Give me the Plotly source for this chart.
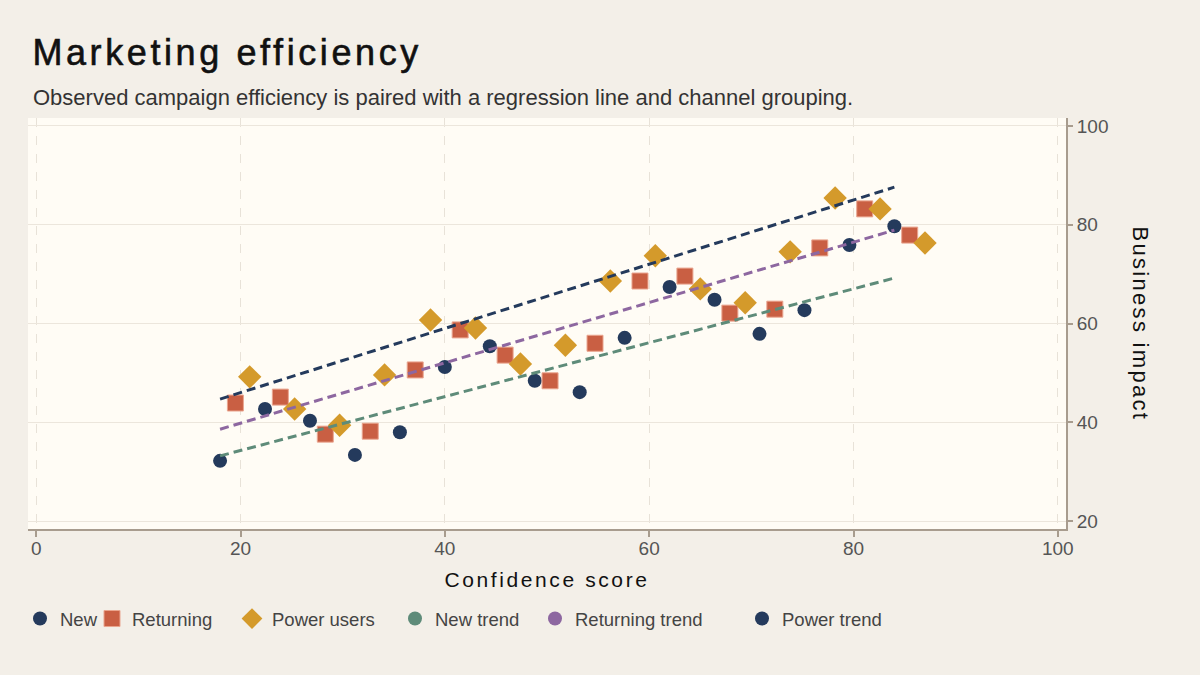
import plotly.graph_objects as go

# Confidence score (x) and business impact (y) per channel group
new_x = [18.0, 22.4, 26.8, 31.2, 35.6, 40.0, 44.4, 48.8, 53.2, 57.6, 62.0, 66.4, 70.8, 75.2, 79.6, 84.0]
new_y = [32.2, 42.7, 40.3, 33.4, 38.0, 51.2, 55.4, 48.4, 46.1, 57.1, 67.4, 64.8, 57.9, 62.7, 75.9, 79.7]

returning_x = [19.5, 23.9, 28.3, 32.7, 37.1, 41.5, 45.9, 50.3, 54.7, 59.1, 63.5, 67.9, 72.3, 76.7, 81.1, 85.5]
returning_y = [43.9, 45.1, 37.6, 38.2, 50.6, 58.7, 53.6, 48.4, 56.0, 68.6, 69.6, 62.1, 62.9, 75.3, 83.2, 77.9]

power_x = [20.9, 25.3, 29.7, 34.1, 38.6, 43.0, 47.4, 51.8, 56.2, 60.6, 65.0, 69.4, 73.8, 78.2, 82.6, 87.0]
power_y = [49.2, 42.7, 39.4, 49.6, 60.7, 59.1, 51.8, 55.6, 68.6, 73.7, 67.0, 64.2, 74.5, 85.4, 83.2, 76.3]

# Regression line end points
trend_x = [18.0, 84.0]
new_trend = [33.2, 69.2]
returning_trend = [38.6, 78.9]
power_trend = [44.7, 87.6]

NAVY = '#243a5c'
RED = '#c95f43'
GOLD = '#d49a2b'
GREEN = '#5e8b79'
PURPLE = '#8d67a0'

fig = go.Figure()

fig.add_trace(go.Scatter(x=new_x, y=new_y, mode='markers', name='New', legend='legend',
                         marker=dict(symbol='circle', size=14, color=NAVY)))
fig.add_trace(go.Scatter(x=returning_x, y=returning_y, mode='markers', name='Returning', legend='legend2',
                         marker=dict(symbol='square', size=16, color=RED,
                                     line=dict(color='#eaa58f', width=1))))
fig.add_trace(go.Scatter(x=power_x, y=power_y, mode='markers', name='Power users', legend='legend3',
                         marker=dict(symbol='diamond', size=18, color=GOLD)))

# dashed trend lines (legend shown through marker proxies below)
for ys, col in [(new_trend, GREEN), (returning_trend, PURPLE), (power_trend, NAVY)]:
    fig.add_trace(go.Scatter(x=trend_x, y=ys, mode='lines', showlegend=False,
                             line=dict(color=col, width=3, dash='9px,5px'), hoverinfo='skip'))

for name, col, lg in [('New trend', GREEN, 'legend4'), ('Returning trend', PURPLE, 'legend5'),
                      ('Power trend', NAVY, 'legend6')]:
    fig.add_trace(go.Scatter(x=[None], y=[None], mode='markers', name=name, legend=lg,
                             marker=dict(symbol='circle', size=14, color=col)))

# one legend box per entry so the spacing follows the reference
legend_pos = {'legend': 20, 'legend2': 92, 'legend3': 232, 'legend4': 395, 'legend5': 535, 'legend6': 742}
legends = {}
for key, px in legend_pos.items():
    legends[key] = dict(orientation='h', xref='container', yref='container',
                        x=px / 1200, xanchor='left', y=1 - 619 / 675, yanchor='middle',
                        font=dict(size=18.5, color='#444'), bgcolor='rgba(0,0,0,0)')

fig.update_layout(
    width=1200, height=675,
    paper_bgcolor='#f3efe8',
    plot_bgcolor='#fffcf5',
    font=dict(family='Liberation Sans, Arial, sans-serif', color='#444'),
    margin=dict(l=28, r=134, t=118, b=146),
    title=dict(text='Marketing efficiency', x=0.027, xanchor='left', y=0.922, yanchor='middle',
               font=dict(size=36, color='#111')),
    xaxis=dict(range=[-0.8, 100.8], tickvals=[0, 20, 40, 60, 80, 100],
               showline=True, linecolor='#a89c8e', linewidth=2,
               ticks='outside', ticklen=6, tickcolor='#a89c8e', tickwidth=2,
               tickfont=dict(size=19, color='#555'), ticklabelstandoff=-5,
               showgrid=True, gridcolor='#e8e2d8', griddash='dash', gridwidth=1,
               zeroline=False,
               title=dict(text='Confidence score', font=dict(size=21, color='#111'), standoff=15)),
    yaxis=dict(range=[18.4, 101.6], tickvals=[20, 40, 60, 80, 100], side='right',
               showline=True, linecolor='#a89c8e', linewidth=2,
               ticks='outside', ticklen=5, tickcolor='#a89c8e', tickwidth=2,
               tickfont=dict(size=19, color='#555'),
               showgrid=True, gridcolor='#ece6dc', gridwidth=1, zeroline=False),
    annotations=[
        dict(text='Observed campaign efficiency is paired with a regression line and channel grouping.',
             xref='paper', yref='paper', x=0.003, y=1.051, xanchor='left', yanchor='middle',
             showarrow=False, font=dict(size=22, color='#333')),
        dict(text='Business impact', xref='paper', yref='paper', x=1.072, y=0.5,
             xanchor='center', yanchor='middle', textangle=90, showarrow=False,
             font=dict(size=22, color='#111')),
    ],
    **legends,
)

# page without body margin, and tracked title lettering
js = """
document.body.style.margin = '0';
document.body.style.background = '#f3efe8';
document.querySelectorAll('.gtitle').forEach(function (e) {
    e.style.letterSpacing = '3.6px';
    e.style.stroke = '#111';
    e.style.strokeWidth = '0.6px';
});
document.querySelectorAll('.xtitle').forEach(function (e) { e.style.letterSpacing = '2.6px'; });
var ann = document.querySelectorAll('.annotation-text');
if (ann.length > 1) { ann[1].style.letterSpacing = '2.3px'; }
"""

fig.write_html('out.html', post_script=js, config={'displayModeBar': False})
